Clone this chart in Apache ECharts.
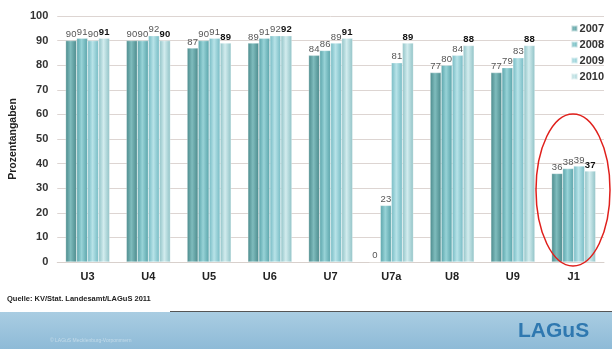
<!DOCTYPE html>
<html>
<head>
<meta charset="utf-8">
<script src="https://cdn.jsdelivr.net/npm/echarts@6/dist/echarts.min.js"></script>
<style>
  html, body { margin: 0; padding: 0; background: #fff; }
  #chart { width: 612px; height: 349px; }
</style>
</head>
<body>
<div id="chart"></div>
<script>
const categories = ['U3', 'U4', 'U5', 'U6', 'U7', 'U7a', 'U8', 'U9', 'J1']
const years = ['2007', '2008', '2009', '2010']
const v2007 = [90, 90, 87, 89, 84, 0, 77, 77, 36]
const v2008 = [91, 90, 90, 91, 86, 23, 80, 79, 38]
const v2009 = [90, 92, 91, 92, 89, 81, 84, 83, 39]
const v2010 = [91, 90, 89, 92, 91, 89, 88, 88, 37]
const yTicks = [0, 10, 20, 30, 40, 50, 60, 70, 80, 90, 100]

// cylinder-ish shading per year: [edge, middle]
const shades = [
  ['#4a898b', '#7fbcbd'],
  ['#58a3a9', '#98d3d7'],
  ['#74bac3', '#b8e3e8'],
  ['#8fc2c6', '#d2ecee']
]

function cylinder(c) {
  return new echarts.graphic.LinearGradient(0, 0, 1, 0, [
    { offset: 0, color: c[0] },
    { offset: 0.45, color: c[1] },
    { offset: 1, color: c[0] }
  ])
}

const chart = echarts.init(document.getElementById('chart'))
const allValues = [v2007, v2008, v2009, v2010]

chart.setOption({
  backgroundColor: '#ffffff',
  animation: false,
  grid: { left: 49, right: 8, top: 16, bottom: 87 },
  legend: {
    data: years,
    orient: 'vertical',
    right: 3,
    top: 18,
    itemWidth: 6,
    itemHeight: 6,
    itemGap: 5,
    icon: 'rect',
    textStyle: { fontSize: 11, fontWeight: 'bold', color: '#333', fontFamily: 'Liberation Sans', padding: [0, 0, 0, -3] }
  },
  xAxis: {
    type: 'category',
    data: categories,
    axisTick: { show: false },
    axisLine: { lineStyle: { color: '#d8d0cc' } },
    axisLabel: { fontSize: 11, fontWeight: 'bold', color: '#222', fontFamily: 'Liberation Sans', margin: 9 }
  },
  yAxis: {
    type: 'value',
    min: yTicks[0],
    max: yTicks[yTicks.length - 1],
    interval: 10,
    name: 'Prozentangaben',
    nameLocation: 'middle',
    nameRotate: 90,
    nameGap: 38,
    nameTextStyle: { fontSize: 10.5, fontWeight: 'bold', color: '#222', fontFamily: 'Liberation Sans' },
    axisLine: { show: false },
    axisTick: { show: false },
    axisLabel: { fontSize: 11, fontWeight: 'bold', color: '#333', fontFamily: 'Liberation Sans', margin: 9 },
    splitLine: { lineStyle: { color: '#ddd5d2' } }
  },
  series: years.map((y, i) => ({
    name: y,
    type: 'bar',
    data: allValues[i],
    barWidth: 11,
    barGap: '0%',
    itemStyle: { color: cylinder(shades[i]), borderColor: 'rgba(255,255,255,0.6)', borderWidth: 0.5 },
    label: {
      show: true,
      position: 'top',
      distance: 1,
      fontSize: 9.5,
      fontFamily: 'Liberation Sans',
      color: i === 3 ? '#111' : '#555',
      fontWeight: i === 3 ? 'bold' : 'normal'
    }
  })),
  graphic: [
    {
      type: 'ellipse',
      shape: { cx: 573, cy: 190, rx: 37, ry: 76 },
      style: { fill: 'none', stroke: '#e0201c', lineWidth: 1.5 },
      z: 100
    },
    {
      type: 'text',
      left: 7,
      top: 295,
      style: { text: 'Quelle: KV/Stat. Landesamt/LAGuS 2011', fontSize: 7.5, fontWeight: 'bold', fill: '#222', fontFamily: 'Liberation Sans' }
    },
    {
      type: 'rect',
      shape: { x: 0, y: 312, width: 612, height: 37 },
      style: {
        fill: new echarts.graphic.LinearGradient(0, 0, 0, 1, [
          { offset: 0, color: '#a9cde2' },
          { offset: 1, color: '#8ebad7' }
        ])
      },
      z: 1
    },
    {
      type: 'line',
      shape: { x1: 170, y1: 311.5, x2: 612, y2: 311.5 },
      style: { stroke: '#555', lineWidth: 1 },
      z: 2
    },
    {
      type: 'text',
      left: 518,
      top: 321,
      style: { text: 'LAGuS', fontSize: 21, fontWeight: 'bold', fill: '#2f78b0', fontFamily: 'Liberation Sans' },
      z: 3
    },
    {
      type: 'text',
      left: 50,
      top: 338,
      style: { text: '© LAGuS Mecklenburg-Vorpommern', fontSize: 5, fill: '#c4dbe9', fontFamily: 'Liberation Sans' },
      z: 3
    }
  ]
})
</script>
</body>
</html>
